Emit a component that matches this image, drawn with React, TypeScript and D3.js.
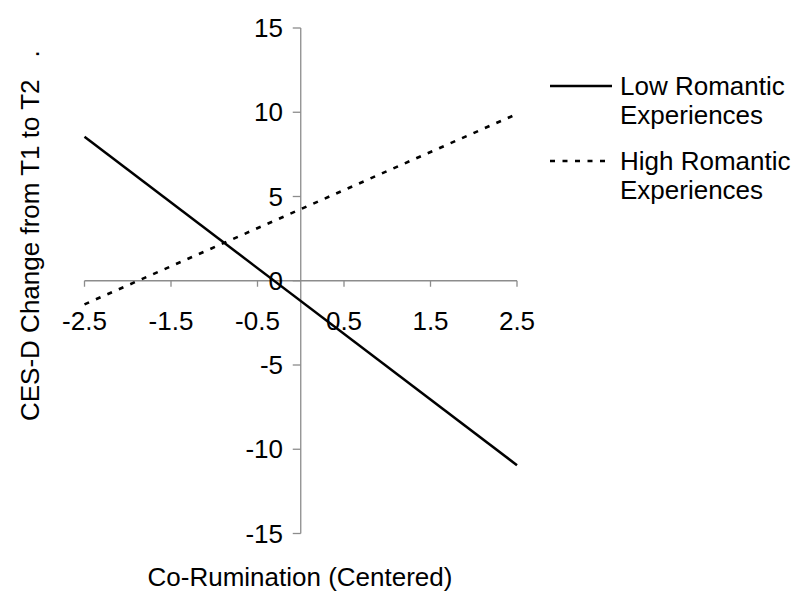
import React from "react";
import * as d3 from "d3";

const xEnds = [-2.5, 2.5];
const lowValues = [8.55, -10.95];
const highValues = [-1.4, 9.9];
const xTicks = [-2.5, -1.5, -0.5, 0.5, 1.5, 2.5];
const yTicks = [15, 10, 5, 0, -5, -10, -15];
const legendLabels = [["Low Romantic", "Experiences"], ["High Romantic", "Experiences"]];

const FONT = "'Liberation Sans', Arial, sans-serif";

export default function App() {
  const W = 800, H = 602;
  const x = d3.scaleLinear().domain([-2.5, 2.5]).range([84.5, 517]);
  const y = d3.scaleLinear().domain([-15, 15]).range([533.5, 28]);
  const line = d3.line<[number, number]>().x(d => x(d[0])).y(d => y(d[1]));
  const low = xEnds.map((v, i) => [v, lowValues[i]] as [number, number]);
  const high = xEnds.map((v, i) => [v, highValues[i]] as [number, number]);
  const axisColor = "#8c8c8c";
  const x0 = x(0), y0 = y(0);
  const fs = 26;
  return (
    <svg width={W} height={H} style={{ position: "absolute", left: 0, top: 0, background: "#fff" }} fontFamily={FONT}>
      {/* axes */}
      <line x1={x(-2.5)} x2={x(2.5)} y1={y0} y2={y0} stroke={axisColor} strokeWidth={1.3} />
      <line x1={x0} x2={x0} y1={y(15)} y2={y(-15)} stroke={axisColor} strokeWidth={1.3} />
      {xTicks.map(t => (
        <g key={"xt" + t}>
          <line x1={x(t)} x2={x(t)} y1={y0} y2={y0 + 6} stroke={axisColor} strokeWidth={1.3} />
          <text x={x(t)} y={330} textAnchor="middle" fontSize={fs} fill="#000">{t.toFixed(1)}</text>
        </g>
      ))}
      {yTicks.map(t => (
        <g key={"yt" + t}>
          <line x1={x0 - 8} x2={x0} y1={y(t)} y2={y(t)} stroke={axisColor} strokeWidth={1.3} />
          <text x={283} y={y(t) + 9} textAnchor="end" fontSize={fs} fill="#000">{String(t)}</text>
        </g>
      ))}
      {/* lines */}
      <path d={line(low) || ""} fill="none" stroke="#000" strokeWidth={2.5} />
      <path d={line(high) || ""} fill="none" stroke="#000" strokeWidth={2.6} strokeDasharray="5,7.5" />
      {/* axis titles */}
      <text x={300} y={586} textAnchor="middle" fontSize={fs} fill="#000">Co-Rumination (Centered)</text>
      <text transform="translate(39,421) rotate(-90)" textAnchor="start" fontSize={fs} fill="#000">
        CES-D Change from T1 to T2<tspan dx={22}>.</tspan>
      </text>
      {/* legend */}
      <line x1={550} x2={612} y1={86} y2={86} stroke="#000" strokeWidth={2.5} />
      <line x1={550} x2={612} y1={161} y2={161} stroke="#000" strokeWidth={2.6} strokeDasharray="5,7.5" />
      {legendLabels.map((rows, i) => (
        <text key={"lg" + i} x={620} y={i === 0 ? 95 : 170} fontSize={fs} fill="#000">
          <tspan x={620}>{rows[0]}</tspan>
          <tspan x={620} dy={29}>{rows[1]}</tspan>
        </text>
      ))}
    </svg>
  );
}
